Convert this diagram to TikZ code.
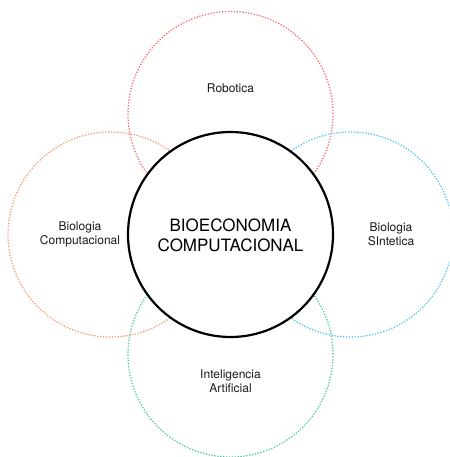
\documentclass[tikz,border=0pt]{standalone}
\usepackage{fontspec}
\setmainfont{TeX Gyre Heros}
\definecolor{cred}{RGB}{250,100,100}
\definecolor{corange}{RGB}{252,150,100}
\definecolor{cblue}{RGB}{70,190,250}
\definecolor{cgreen}{RGB}{70,200,150}
\tikzset{
  outer/.style={circle, minimum size=205pt, inner sep=0pt, line width=1.2pt, dash pattern=on 1.3pt off 1.6pt},
  core/.style={circle, minimum size=205pt, inner sep=0pt, draw=black, line width=2.2pt, fill=white},
  lbl/.style={font=\fontsize{12}{14}\selectfont, align=center, text=black!90},
  corelbl/.style={font=\fontsize{17}{20}\selectfont, align=center, text=black}
}
\begin{document}
\begin{tikzpicture}[x=1pt,y=1pt]
\useasboundingbox (0,0) rectangle (449,-457);
\clip (0,0) rectangle (449,-457);
\node[outer, draw=cred] (rob) at (230.5,-114) {};
\node[outer, draw=corange] (bc) at (110.5,-234.5) {};
\node[outer, draw=cblue] (bs) at (350.5,-234.5) {};
\node[outer, draw=cgreen] (ia) at (230.5,-354.5) {};
\node[core] (core) at (230.5,-234.5) {};
\node[corelbl] (coret) at (230.5,-235) {BIOECONOMIA\\COMPUTACIONAL};
\node[lbl] (robt) at (230.5,-88) {Robotica};
\node[lbl] (bct) at (80,-234.5) {Biologia\\Computacional};
\node[lbl] (bst) at (391,-234.5) {Biologia\\SIntetica};
\node[lbl] (iat) at (230.5,-381.5) {Inteligencia\\Artificial};
\end{tikzpicture}
\end{document}
